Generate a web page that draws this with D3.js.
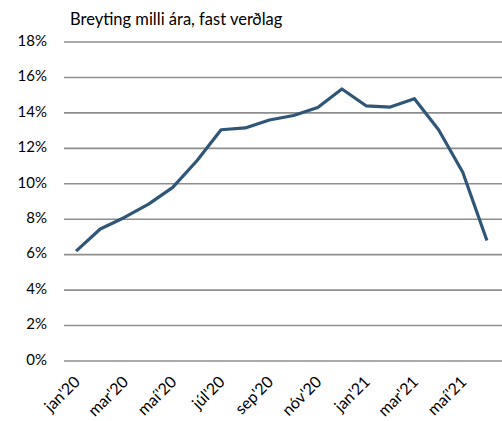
<!DOCTYPE html>
<html>
<head>
<meta charset="utf-8">
<script src="https://cdn.jsdelivr.net/npm/d3@7"></script>
<style>
  body { margin: 0; background: #fff; }
  text { font-family: Lato, "Open Sans", sans-serif; fill: #000; }
</style>
</head>
<body>
<div id="chart"></div>
<script>
// Breyting milli ára, fast verðlag (jan'20 - jún'21)
const months = ["jan'20", "feb'20", "mar'20", "apr'20", "maí'20", "jún'20", "júl'20", "ágú'20", "sep'20",
  "okt'20", "nóv'20", "des'20", "jan'21", "feb'21", "mar'21", "apr'21", "maí'21", "jún'21"];
const values = [6.2, 7.45, 8.1, 8.85, 9.8, 11.3, 13.05, 13.15, 13.6, 13.85, 14.3, 15.35,
  14.4, 14.33, 14.8, 13.05, 10.65, 6.8];
const shownLabels = ["jan'20", "mar'20", "maí'20", "júl'20", "sep'20", "nóv'20", "jan'21", "mar'21", "maí'21"];
const yTicks = [0, 2, 4, 6, 8, 10, 12, 14, 16, 18];

(function () {
  const width = 502;
  const height = 421;
  const margin = { top: 42, right: 3, bottom: 60, left: 64 };

  const svg = d3.select('#chart')
    .append('svg')
    .attr('width', width)
    .attr('height', height);

  const x = d3.scaleBand()
    .domain(months)
    .range([margin.left, width - margin.right]);

  const y = d3.scaleLinear()
    .domain([0, 18])
    .range([height - margin.bottom, margin.top]);

  const xc = (m) => x(m) + x.bandwidth() / 2;

  // gridlines
  svg.append('g')
    .selectAll('line')
    .data(yTicks)
    .enter()
    .append('line')
    .attr('x1', margin.left)
    .attr('x2', width)
    .attr('y1', (d) => y(d))
    .attr('y2', (d) => y(d))
    .attr('stroke', '#8e8e8e')
    .attr('stroke-width', 1.6);

  // y labels
  svg.append('g')
    .selectAll('text')
    .data(yTicks)
    .enter()
    .append('text')
    .attr('x', 47)
    .attr('y', (d) => y(d))
    .attr('text-anchor', 'end')
    .attr('dominant-baseline', 'middle')
    .attr('font-size', 15)
    .text((d) => d + '%');

  // x labels
  svg.append('g')
    .selectAll('text')
    .data(shownLabels)
    .enter()
    .append('text')
    .attr('transform', (d) => `translate(${xc(d) + 2}, ${y(0) + 19}) rotate(-45)`)
    .attr('text-anchor', 'end')
    .attr('dominant-baseline', 'middle')
    .attr('font-size', 16)
    .text((d) => d);

  // line
  const line = d3.line()
    .x((d, i) => xc(months[i]))
    .y((d) => y(d));

  svg.append('path')
    .datum(values)
    .attr('d', line)
    .attr('fill', 'none')
    .attr('stroke', '#2f5577')
    .attr('stroke-width', 3.2)
    .attr('stroke-linejoin', 'round');

  // title
  svg.append('text')
    .attr('x', 70)
    .attr('y', 25)
    .attr('font-size', 16.5)
    .text('Breyting milli ára, fast verðlag');
})();
</script>
</body>
</html>
